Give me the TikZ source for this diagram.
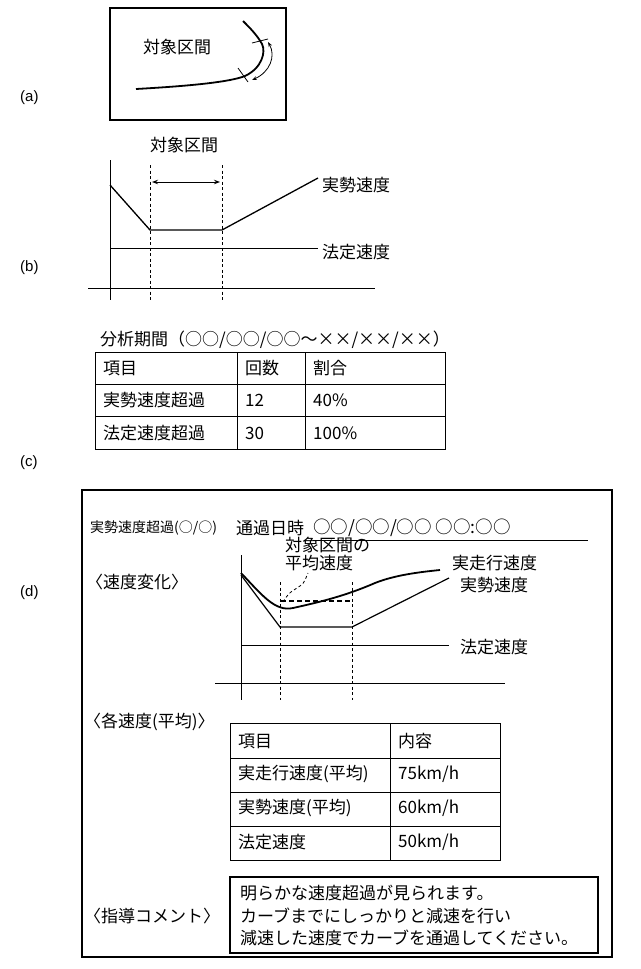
\documentclass[tikz,border=0pt]{standalone}
\usepackage{fontspec}
\setmainfont{Noto Sans CJK JP}
\newfontfamily\lat{Liberation Sans}
\usetikzlibrary{arrows.meta}
\begin{document}
\begin{tikzpicture}[x=1pt,y=-1pt,
  txt/.style={inner sep=0pt,anchor=west,font=\fontsize{17}{18}\selectfont},
  lab/.style={inner sep=0pt,anchor=west,font=\lat\fontsize{15}{16}\selectfont},
  thin/.style={line width=0.8pt},
  thick/.style={line width=1.8pt},
  dsh/.style={line width=0.8pt,dash pattern=on 3pt off 2.5pt}]
\useasboundingbox (0,0) rectangle (640,969);
% (a)
\node[lab] (la) at (20,98) {(a)};
\draw[line width=1.2pt] (110,8) rectangle (286,120);
\node[txt] (ta) at (143,47) {対象区間};
\draw[thick] (136,89) .. controls (190,86) and (230,82) .. (245,76) .. controls (262,68) and (266,52) .. (262,44) .. controls (257,35) and (250,28) .. (243,21);
\draw[thin] (238,68)--(248,82);
\draw[thin] (252,43)--(268,39);
\draw[thin,{Stealth[open,length=5pt]}-{Stealth[open,length=5pt]}] (252,80) .. controls (270,72) and (276,56) .. (268,42);
% (b)
\node[lab] (lb) at (20,268) {(b)};
\draw[thin] (110,160)--(110,300);
\draw[thin] (88,288)--(375,288);
\draw[line width=1.3pt] (110,185)--(150,230)--(222,230)--(318,178);
\draw[thin] (110,248)--(318,248);
\draw[dsh] (150,165)--(150,300);
\draw[dsh] (222,165)--(222,300);
\draw[thin,{Stealth[open,length=6pt]}-{Stealth[open,length=6pt]}] (152,182)--(220,182);
\node[txt] (tb) at (150,145) {対象区間};
\node[txt] (tb1) at (322,185) {実勢速度};
\node[txt] (tb2) at (322,252) {法定速度};
% (c)
\node[lab] (lc) at (20,463) {(c)};
\node[txt] (tc) at (100,340) {分析期間（○○/○○/○○～××/××/××）};
\draw[thin] (95,352) rectangle (445,449);
\draw[thin] (95,384)--(445,384) (95,416)--(445,416) (237,352)--(237,449) (305,352)--(305,449);
\node[txt] at (103,368) {項目};
\node[txt] at (245,368) {回数};
\node[txt] at (313,368) {割合};
\node[txt] at (103,400) {実勢速度超過};
\node[txt] at (245,400) {12};
\node[txt] at (313,400) {40\%};
\node[txt] at (103,433) {法定速度超過};
\node[txt] at (245,433) {30};
\node[txt] at (313,433) {100\%};
% (d)
\node[lab] (ld) at (20,593) {(d)};
\draw[line width=1.8pt] (82,490) rectangle (612,957);
\node[txt,font=\fontsize{14}{17}\selectfont] (dh) at (90,528) {実勢速度超過(○/○)};
\node[txt] (dh2) at (236,528) {通過日時};
\node[txt,font=\fontsize{17.5}{20}\selectfont] (dd) at (313,528) {○○/○○/○○ ○○:○○};
\draw[thin] (313,540)--(588,540);
\node[txt] at (86,582) {〈速度変化〉};
\draw[thin] (241,555)--(241,700);
\draw[thin] (215,683)--(505,683);
\draw[thin] (241,645)--(449,645);
\draw[dsh] (280,582)--(280,700);
\draw[dsh] (352,582)--(352,700);
\draw[line width=1.2pt] (241,575)--(280,627)--(352,627)--(449,578);
\draw[thick] (241,573) .. controls (262,595) and (275,612) .. (293,608) .. controls (320,602) and (345,596) .. (375,583) .. controls (395,575) and (420,572) .. (440,570);
\draw[line width=1.4pt,dash pattern=on 5pt off 3pt] (281,601)--(350,601);
\draw[dsh] (283,602) .. controls (290,590) and (295,590) .. (300,586) .. controls (305,583) and (306,577) .. (308,573);
\node[txt] at (285,545) {対象区間の};
\node[txt] at (285,563) {平均速度};
\node[txt] at (452,563) {実走行速度};
\node[txt] at (460,585) {実勢速度};
\node[txt] at (460,647) {法定速度};
\node[txt] at (84,722) {〈各速度(平均)〉};
\draw[thin] (230,723) rectangle (500,860);
\draw[thin] (230,758)--(500,758) (230,792)--(500,792) (230,826)--(500,826) (390,723)--(390,860);
\node[txt] at (238,741) {項目};
\node[txt] at (398,741) {内容};
\node[txt] at (238,774) {実走行速度(平均)};
\node[txt] at (398,774) {75km/h};
\node[txt] at (238,808) {実勢速度(平均)};
\node[txt] at (398,808) {60km/h};
\node[txt] at (238,842) {法定速度};
\node[txt] at (398,842) {50km/h};
\node[txt] at (84,916) {〈指導コメント〉};
\draw[line width=1.8pt] (230,877) rectangle (598,953);
\node[txt] at (240,893) {明らかな速度超過が見られます。};
\node[txt] at (240,916) {カーブまでにしっかりと減速を行い};
\node[txt] at (240,938) {減速した速度でカーブを通過してください。};
\end{tikzpicture}
\end{document}
